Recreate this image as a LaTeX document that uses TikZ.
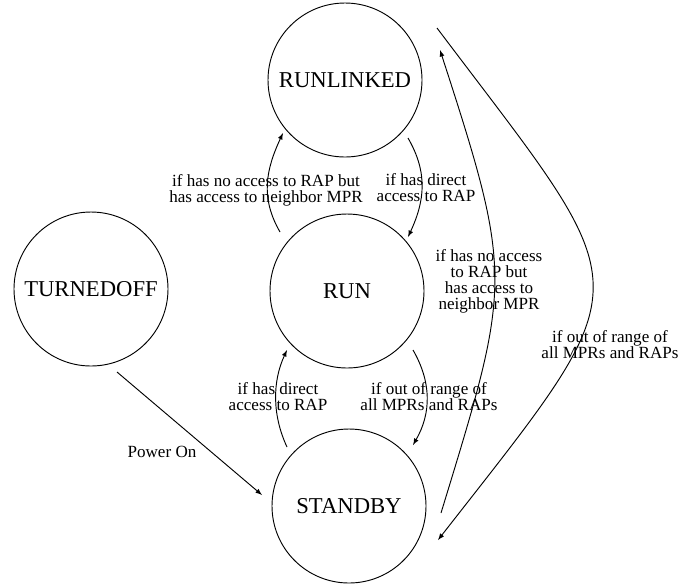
\documentclass[tikz,border=0pt]{standalone}
\usepackage{fontspec}
\setmainfont{Liberation Serif}
\usetikzlibrary{positioning}

\begin{document}
\begin{tikzpicture}[x=0.75pt,y=0.75pt,yscale=-1,xscale=1,
    state/.style={circle,draw,line width=0.7pt,minimum size=115.5pt,inner sep=0pt,font=\fontsize{17}{20}\selectfont},
    cond/.style={align=center,inner sep=0pt,font=\fontsize{12.8}{12}\selectfont},
    trans/.style={-latex,line width=0.7pt}]
            \useasboundingbox (0,0) rectangle (692,583);

            % states
            \node[state] (runlinked) at (345,80) {RUNLINKED};
            \node[state] (run) at (347,291) {RUN};
            \node[state] (standby) at (349,506) {STANDBY};
            \node[state] (turnedoff) at (91,289) {TURNEDOFF};

            % transitions
            \draw[trans] ([shift={(-67,-59)}]run.center) .. controls +(-120:40) and +(115:40) .. ([shift={(-62,53)}]runlinked.center);
            \draw[trans] ([shift={(63,58)}]runlinked.center) .. controls +(60:40) and +(-65:40) .. ([shift={(61,-54)}]run.center);
            \draw[trans] ([shift={(-62,-59)}]standby.center) .. controls +(-115:35) and +(115:35) .. ([shift={(-60,59)}]run.center);
            \draw[trans] ([shift={(66,59)}]run.center) .. controls +(60:37) and +(-60:37) .. ([shift={(64,-61)}]standby.center);
            \draw[trans] ([shift={(92,7)}]standby.center) .. controls +(-73:240) and +(72:240) .. ([shift={(95,-30)}]runlinked.center);
            \draw[trans] ([shift={(92,-52)}]runlinked.center) .. controls +(53:340) and +(-52:340) .. ([shift={(89,34)}]standby.center);
            \draw[trans] ([shift={(26,83)}]turnedoff.center) -- ([shift={(-87,-11)}]standby.center);

            % conditions
            \node[cond] (c-link) at (266,190) {if has no access to RAP but\\has access to neighbor MPR};
            \node[cond] (c-direct) at (426,188) {if has direct\\access to RAP};
            \node[cond] (c-relink) at (489,281) {if has no access\\to RAP but\\has access to\\neighbor MPR};
            \node[cond] (c-lost) at (610,345) {if out of range of\\all MPRs and RAPs};
            \node[cond] (c-rap) at (278,397) {if has direct\\access to RAP};
            \node[cond] (c-range) at (429,397) {if out of range of\\all MPRs and RAPs};
            \node[cond] (c-power) at (162,452) {Power On};
        \end{tikzpicture}
\end{document}
